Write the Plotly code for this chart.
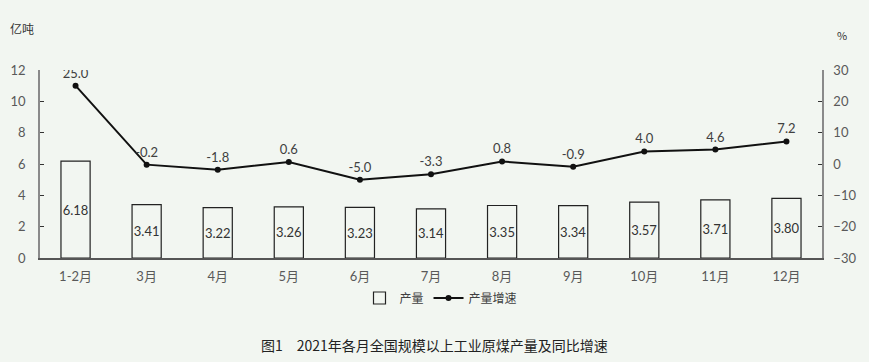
import plotly.graph_objects as go

months = ["1-2月", "3月", "4月", "5月", "6月", "7月", "8月", "9月", "10月", "11月", "12月"]
output = [6.18, 3.41, 3.22, 3.26, 3.23, 3.14, 3.35, 3.34, 3.57, 3.71, 3.80]
growth = [25.0, -0.2, -1.8, 0.6, -5.0, -3.3, 0.8, -0.9, 4.0, 4.6, 7.2]
left_ticks = [0, 2, 4, 6, 8, 10, 12]
right_ticks = [-30, -20, -10, 0, 10, 20, 30]

font_family = "Noto Sans CJK SC, Noto Sans, sans-serif"
num_family = "Lato, Noto Sans CJK SC, sans-serif"
bg = "#F2F6F1"

fig = go.Figure()
fig.add_trace(go.Bar(
    x=months, y=output, name="产量",
    marker=dict(color="rgba(0,0,0,0)", line=dict(color="#222222", width=1.2)),
    width=0.41,
    text=[f"{v:.2f}" for v in output], textposition="inside", insidetextanchor="middle",
    textangle=0, constraintext="none",
    textfont=dict(size=13, color="#333333", family=num_family),
    hoverinfo="skip",
))
fig.add_trace(go.Scatter(
    x=months, y=growth, name="产量增速", yaxis="y2",
    mode="lines+markers+text",
    line=dict(color="#111111", width=2),
    marker=dict(color="#111111", size=6),
    text=[f"{v:.1f}" for v in growth], textposition="top center",
    textfont=dict(size=13, color="#404040", family=num_family),
))

axis_common = dict(
    showgrid=False, zeroline=False, showline=True, linecolor="#8a8a8a", linewidth=1.5,
    ticks="inside", ticklen=4, tickcolor="#333333", automargin=False,
    tickfont=dict(size=13, color="#595959", family=num_family),
)
W, H = 869, 362
L, R, T, B = 40, 47, 70, 104
pw, ph = W - L - R, H - T - B


def px(x, y):
    return (x - L) / pw, (H - B - y) / ph


ann_specs = [
    ("亿吨", 8, 28, "left", 12, "#333333"),
    ("%", 835, 35, "left", 11, "#333333"),
    ("图1　2021年各月全国规模以上工业原煤产量及同比增速", 434, 345, "center", 14, "#222222"),
]
anns = []
for text, x, y, xa, size, color in ann_specs:
    ax, ay = px(x, y)
    anns.append(dict(text=text, x=ax, y=ay, xref="paper", yref="paper", showarrow=False,
                     xanchor=xa, yanchor="middle", font=dict(size=size, color=color)))

lx, ly = px(441, 298)
fig.update_layout(
    width=W, height=H,
    paper_bgcolor=bg, plot_bgcolor=bg,
    margin=dict(l=L, r=R, t=T, b=B, autoexpand=False),
    font=dict(family=font_family, color="#404040"),
    xaxis=dict(range=[-0.5, len(months) - 0.5], showgrid=False, showline=True, linecolor="#555555",
               linewidth=1.5, automargin=False, ticks="", ticklabelstandoff=6,
               tickfont=dict(size=13, color="#595959", family=num_family)),
    yaxis=dict(range=[0, 12], tickvals=left_ticks, ticklabelstandoff=10, **axis_common),
    yaxis2=dict(range=[-30, 30], tickvals=right_ticks, overlaying="y", side="right",
                ticklabelstandoff=7, **axis_common),
    showlegend=True,
    legend=dict(orientation="h", x=lx, xanchor="center", y=ly, yanchor="middle",
                font=dict(size=12, color="#404040", family=font_family),
                bgcolor="rgba(0,0,0,0)", itemwidth=30),
    annotations=anns,
)
fig.write_html("out.html", config={"displayModeBar": False},
               post_script="document.body.style.margin='0';document.body.style.padding='0';")
